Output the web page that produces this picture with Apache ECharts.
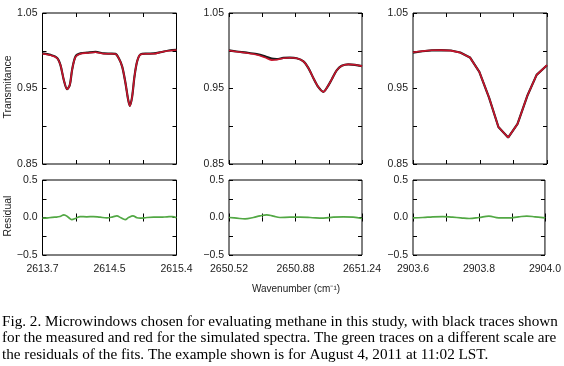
<!DOCTYPE html>
<html>
<head>
<meta charset="utf-8">
<script src="https://cdn.jsdelivr.net/npm/echarts@6/dist/echarts.min.js"></script>
<style>
  html, body { margin: 0; padding: 0; background: #fff; }
  #main { width: 564px; height: 366px; }
</style>
</head>
<body>
<div id="main"></div>
<script>
// window 1 : 2613.7 - 2615.4
var wn1 = [2613.700, 2613.801, 2613.886, 2613.928, 2613.971, 2614.013, 2614.047, 2614.076, 2614.119, 2614.182,
  2614.267, 2614.372, 2614.478, 2614.563, 2614.626, 2614.668, 2614.711, 2614.753, 2614.787, 2614.808,
  2614.837, 2614.867, 2614.901, 2614.943, 2615.028, 2615.112, 2615.197, 2615.303, 2615.400];
var meas1 = [0.9965, 0.9945, 0.9905, 0.981, 0.961, 0.949, 0.955, 0.975, 0.9925, 0.9965,
  0.9975, 0.9985, 0.9965, 0.9962, 0.9958, 0.990, 0.979, 0.957, 0.935, 0.927,
  0.939, 0.966, 0.986, 0.9952, 0.9962, 0.9965, 0.998, 1.0003, 1.0012];
var sim1 = [0.996, 0.994, 0.990, 0.981, 0.961, 0.949, 0.955, 0.975, 0.992, 0.996,
  0.997, 0.998, 0.996, 0.996, 0.9956, 0.990, 0.979, 0.957, 0.935, 0.927,
  0.939, 0.966, 0.986, 0.995, 0.996, 0.996, 0.998, 1.000, 1.001];
var rwn1 = [2613.700, 2613.772, 2613.857, 2613.921, 2613.972, 2614.027, 2614.070, 2614.125, 2614.176, 2614.261,
  2614.346, 2614.431, 2614.516, 2614.592, 2614.643, 2614.694, 2614.749, 2614.792, 2614.847, 2614.898,
  2614.940, 2615.025, 2615.110, 2615.196, 2615.281, 2615.345, 2615.400];
var res1 = [-0.009, -0.004, 0.004, 0.013, 0.036, 0.004, -0.027, -0.009, 0.013, 0.009,
  0.013, 0.004, -0.004, 0.009, 0.022, -0.004, -0.027, 0, 0.022, -0.004,
  -0.009, 0, 0.004, 0.004, 0.009, 0.013, -0.004];

// window 2 : 2650.52 - 2651.24
var wn2 = [2650.520, 2650.562, 2650.616, 2650.670, 2650.715, 2650.751, 2650.778, 2650.814, 2650.850, 2650.886,
  2650.923, 2650.950, 2650.977, 2651.004, 2651.031, 2651.052, 2651.076, 2651.103, 2651.130, 2651.166,
  2651.202, 2651.240];
var meas2 = [1.0006, 0.999, 0.9975, 0.9955, 0.9925, 0.9895, 0.989, 0.9905, 0.9908, 0.990,
  0.986, 0.977, 0.9637, 0.9518, 0.9456, 0.9518, 0.962, 0.974, 0.980, 0.982,
  0.9814, 0.9796];
var sim2 = [1.0004, 0.9987, 0.997, 0.9947, 0.991, 0.9876, 0.988, 0.990, 0.9907, 0.990,
  0.986, 0.977, 0.9637, 0.9518, 0.9456, 0.9518, 0.962, 0.974, 0.980, 0.982,
  0.9814, 0.9796];
var rwn2 = [2650.520, 2650.562, 2650.607, 2650.652, 2650.688, 2650.724, 2650.760, 2650.796, 2650.850, 2650.904,
  2650.959, 2651.031, 2651.085, 2651.139, 2651.193, 2651.240];
var res2 = [0, -0.009, -0.018, 0, 0.022, 0.036, 0.018, 0, 0.004, 0.004,
  0, -0.009, 0.004, 0.009, 0.004, -0.013];

// window 3 : 2903.6 - 2904.0
var wn3 = [2903.600, 2903.628, 2903.656, 2903.684, 2903.713, 2903.741, 2903.770, 2903.798, 2903.827, 2903.855,
  2903.884, 2903.912, 2903.941, 2903.969, 2904.000];
var meas3 = [0.9975, 0.9993, 1.0006, 1.0008, 1.0003, 0.9977, 0.9912, 0.972, 0.938, 0.899,
  0.885, 0.903, 0.940, 0.968, 0.9808];
var sim3 = [0.998, 0.9995, 1.0007, 1.0008, 1.0002, 0.9975, 0.991, 0.972, 0.938, 0.899,
  0.885, 0.903, 0.940, 0.968, 0.981];
var rwn3 = [2903.600, 2903.630, 2903.660, 2903.690, 2903.720, 2903.745, 2903.770, 2903.800, 2903.830, 2903.860,
  2903.890, 2903.920, 2903.945, 2903.970, 2904.000];
var res3 = [-0.004, 0, 0.009, 0.013, 0.004, -0.004, -0.013, 0, 0.018, -0.004,
  -0.004, 0.009, 0.018, 0.009, -0.004];

// ticks
var xTicks1 = [2613.7, 2614.125, 2614.55, 2614.975, 2615.4];
var xLabelVals1 = [2613.7, 2614.55, 2615.4];
var xLabels1 = ['2613.7', '2614.5', '2615.4'];
var xTicks2 = [2650.52, 2650.70, 2650.88, 2651.06, 2651.24];
var xLabelVals2 = [2650.52, 2650.88, 2651.24];
var xLabels2 = ['2650.52', '2650.88', '2651.24'];
var xTicks3 = [2903.6, 2903.7, 2903.8, 2903.9, 2904.0];
var xLabelVals3 = [2903.6, 2903.8, 2904.0];
var xLabels3 = ['2903.6', '2903.8', '2904.0'];

var tTicks = [0.85, 0.90, 0.95, 1.00, 1.05];
var tLabelVals = [0.85, 0.95, 1.05];
var tLabels = ['0.85', '0.95', '1.05'];
var rTicks = [-0.5, -0.25, 0, 0.25, 0.5];
var rLabelVals = [-0.5, 0, 0.5];
var rLabels = ['\u22120.5', '0.0', '0.5'];

var caption = [
  'Fig. 2. Microwindows chosen for evaluating methane in this study, with black traces shown',
  'for the measured and red for the simulated spectra. The green traces on a different scale are',
  'the residuals of the fits. The example shown is for August 4, 2011 at 11:02 LST.'
];

function pair(xs, ys) {
  return xs.map(function (x, i) { return [x, ys[i]]; });
}
function pickLabel(vals, texts) {
  return function (v) {
    for (var i = 0; i < vals.length; i++) {
      if (Math.abs(vals[i] - v) < 1e-6) return texts[i];
    }
    return '';
  };
}

var panels = [
  {wn: wn1, meas: meas1, sim: sim1, rwn: rwn1, res: res1, ticks: xTicks1, lv: xLabelVals1, lt: xLabels1, smooth: 0.3},
  {wn: wn2, meas: meas2, sim: sim2, rwn: rwn2, res: res2, ticks: xTicks2, lv: xLabelVals2, lt: xLabels2, smooth: 0.3},
  {wn: wn3, meas: meas3, sim: sim3, rwn: rwn3, res: res3, ticks: xTicks3, lv: xLabelVals3, lt: xLabels3, smooth: false}
];
var lefts = [42.5, 229, 413];
var widths = [134, 133, 134];

var labelFont = {color: '#222', fontSize: 10.5, fontFamily: 'Liberation Sans, Arial, sans-serif'};

var grids = [], xAxes = [], yAxes = [], series = [];

// grid 0..2 transmittance, 3..5 residual
for (var row = 0; row < 2; row++) {
  for (var p = 0; p < 3; p++) {
    grids.push({
      left: lefts[p], width: widths[p],
      top: row === 0 ? 13 : 180, height: row === 0 ? 151 : 75,
      show: true, borderColor: '#000', borderWidth: 1, backgroundColor: 'transparent'
    });
  }
}

function xAxisFor(g, p, pos, showLabel) {
  var pn = panels[p];
  return {
    type: 'value', gridIndex: g, position: pos,
    min: pn.ticks[0], max: pn.ticks[4],
    axisLine: {show: false},
    splitLine: {show: false},
    axisTick: {show: true, inside: true, length: 4, customValues: pn.ticks, lineStyle: {color: '#000'}},
    axisLabel: Object.assign({
      show: showLabel, margin: 9, customValues: pn.lv,
      formatter: pickLabel(pn.lv, pn.lt)
    }, labelFont)
  };
}
function yAxisFor(g, row, pos, showLabel) {
  var ticks = row === 0 ? tTicks : rTicks;
  var lv = row === 0 ? tLabelVals : rLabelVals;
  var lt = row === 0 ? tLabels : rLabels;
  return {
    type: 'value', gridIndex: g, position: pos,
    min: ticks[0], max: ticks[4],
    axisLine: {show: false},
    splitLine: {show: false},
    axisTick: {show: true, inside: true, length: 4, customValues: ticks, lineStyle: {color: '#000'}},
    axisLabel: Object.assign({
      show: showLabel, margin: 5, customValues: lv,
      formatter: pickLabel(lv, lt)
    }, labelFont)
  };
}

// main axes first (index = grid index), mirrored axes after
for (var g = 0; g < 6; g++) {
  var row = g < 3 ? 0 : 1, p = g % 3;
  xAxes.push(xAxisFor(g, p, 'bottom', row === 1));
  yAxes.push(yAxisFor(g, row, 'left', true));
}
for (var g = 0; g < 6; g++) {
  var row = g < 3 ? 0 : 1, p = g % 3;
  xAxes.push(xAxisFor(g, p, 'top', false));
  yAxes.push(yAxisFor(g, row, 'right', false));
}

panels.forEach(function (pn, p) {
  series.push({
    type: 'line', xAxisIndex: p, yAxisIndex: p, data: pair(pn.wn, pn.meas),
    showSymbol: false, smooth: pn.smooth, lineStyle: {color: '#1a1a1a', width: 2.2}, z: 2
  });
  series.push({
    type: 'line', xAxisIndex: p, yAxisIndex: p, data: pair(pn.wn, pn.sim),
    showSymbol: false, smooth: pn.smooth, lineStyle: {color: '#c8142c', width: 1.6}, z: 3
  });
  series.push({
    type: 'line', xAxisIndex: p + 3, yAxisIndex: p + 3, data: pair(pn.rwn, pn.res),
    showSymbol: false, smooth: 0.4, lineStyle: {color: '#52a844', width: 1.7}, z: 3
  });
});

var graphics = [
  {type: 'text', x: 8, y: 87, rotation: Math.PI / 2,
    style: {text: 'Transmitance', fill: '#222', font: '10.5px Liberation Sans, Arial, sans-serif',
      textAlign: 'center', textVerticalAlign: 'middle'}},
  {type: 'text', x: 8, y: 216, rotation: Math.PI / 2,
    style: {text: 'Residual', fill: '#222', font: '10.5px Liberation Sans, Arial, sans-serif',
      textAlign: 'center', textVerticalAlign: 'middle'}},
  {type: 'text', x: 296, y: 289,
    style: {text: 'Wavenumber (cm\u207B\u00B9)', fill: '#222', font: '10px Liberation Sans, Arial, sans-serif',
      textAlign: 'center', textVerticalAlign: 'middle'}}
];
caption.forEach(function (line, i) {
  graphics.push({type: 'text', x: 2, y: 322 + i * 16.5,
    style: {text: line, fill: '#000', font: '15.2px Liberation Serif, Times New Roman, serif',
      textAlign: 'left', textVerticalAlign: 'middle'}});
});

var myChart = echarts.init(document.getElementById('main'));
myChart.setOption({
  animation: false,
  backgroundColor: '#fff',
  grid: grids,
  xAxis: xAxes,
  yAxis: yAxes,
  series: series,
  graphic: graphics
});
</script>
</body>
</html>
